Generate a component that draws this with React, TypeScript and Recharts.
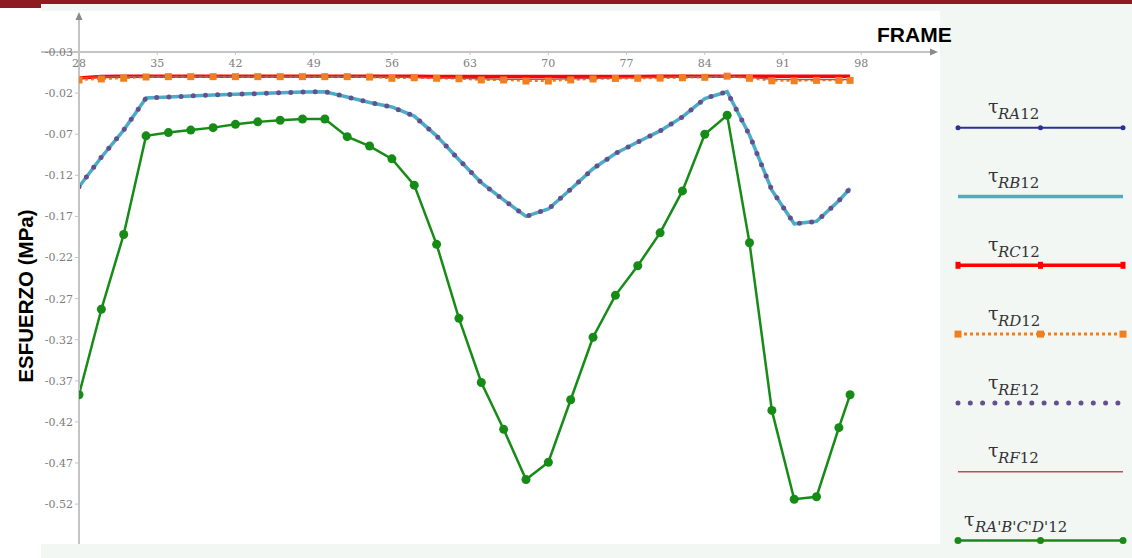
import { LineChart, Line, XAxis, YAxis, ReferenceLine, ReferenceDot, Legend } from "recharts"

// frames sampled every 2 frames, plus the last one
const FRAMES = [28, 30, 32, 34, 36, 38, 40, 42, 44, 46, 48, 50, 52, 54, 56, 58, 60, 62,
  64, 66, 68, 70, 72, 74, 76, 78, 80, 82, 84, 86, 88, 90, 92, 94, 96, 97]

// RA, RB and RE lie on top of each other in the picture
const TAU_RA = [-0.134, -0.098, -0.065, -0.026, -0.0247, -0.0235,
  -0.0223, -0.0215, -0.0205, -0.0195, -0.0187, -0.0183,
  -0.0247, -0.0314, -0.0369, -0.048, -0.072, -0.101,
  -0.129, -0.15, -0.17, -0.161, -0.137, -0.112,
  -0.0935, -0.0795, -0.066, -0.049, -0.0266, -0.0183,
  -0.071, -0.138, -0.179, -0.176, -0.151, -0.136]
const TAU_RB = TAU_RA
const TAU_RE = TAU_RA

const TAU_RC = [-0.0015, 0.0002, 0.0004, 0.0005, 0.0005, 0.0005,
  0.0005, 0.0005, 0.0005, 0.0005, 0.0005, 0.0005,
  0.0005, 0.0005, 0.0004, 0.0004, 0.0003, 0.0003,
  0.0002, 0.0002, 0.0001, 0.0001, 0.0002, 0.0002,
  0.0003, 0.0003, 0.0004, 0.0004, 0.0005, 0.0006,
  0.0005, 0.0005, 0.0005, 0.0005, 0.0005, 0.0005]

const TAU_RD = [-0.004, -0.0028, -0.002, -0.0004, 0, 0,
  0, 0, 0, 0, 0, 0,
  0, -0.0005, -0.002, -0.0013, -0.002, -0.0025,
  -0.004, -0.004, -0.0053, -0.0053, -0.004, -0.0028,
  -0.0022, -0.002, -0.0018, -0.0013, -0.0008, 0.0006,
  -0.002, -0.005, -0.005, -0.0045, -0.0045, -0.0045]

const TAU_RF = [-0.0015, -0.0005, 0, 0, 0, 0,
  0, 0, 0, 0, 0, 0,
  0, 0, -0.0005, -0.001, -0.0015, -0.002,
  -0.0025, -0.003, -0.003, -0.003, -0.0025, -0.002,
  -0.0015, -0.001, -0.001, -0.0005, 0, 0,
  -0.001, -0.003, -0.0035, -0.0035, -0.0035, -0.0035]

const TAU_RABCD = [-0.387, -0.283, -0.192, -0.072, -0.068, -0.065,
  -0.062, -0.058, -0.055, -0.053, -0.0515, -0.0515,
  -0.073, -0.0844, -0.1, -0.132, -0.204, -0.294,
  -0.372, -0.429, -0.49, -0.469, -0.393, -0.317,
  -0.266, -0.23, -0.19, -0.139, -0.07, -0.047,
  -0.202, -0.406, -0.514, -0.511, -0.427, -0.387]

const X_TICKS = [28, 35, 42, 49, 56, 63, 70, 77, 84, 91, 98]
const Y_TICKS = [0.03, -0.02, -0.07, -0.12, -0.17, -0.22, -0.27, -0.32, -0.37, -0.42, -0.47, -0.52]
const Y_TICK_LABELS = ["-0.03", "-0.02", "-0.07", "-0.12", "-0.17", "-0.22", "-0.27",
  "-0.32", "-0.37", "-0.42", "-0.47", "-0.52"]

const LEGEND_NAMES = ["RA", "RB", "RC", "RD", "RE", "RF", "RA'B'C'D'"]

const X_DOMAIN: [number, number] = [28, 104.6]
const Y_DOMAIN: [number, number] = [-0.5685, 0.03]

const NAVY = "#2b3190"
const CYAN = "#4bacc6"
const RED = "#ff0000"
const ORANGE = "#f07f1f"
const PURPLE = "#65508f"
const BROWN = "#c0504d"
const GREEN = "#168c16"
const AXIS = "#c4c4c4"
const TICK_TEXT = "#7d7d7d"

const data = FRAMES.map((f, i) => ({
  frame: f,
  ra: TAU_RA[i],
  rb: TAU_RB[i],
  rc: TAU_RC[i],
  rd: TAU_RD[i],
  re: TAU_RE[i],
  rf: TAU_RF[i],
  rabcd: TAU_RABCD[i],
}))

const SquareDot = (props: any) => {
  const { cx, cy, index } = props
  if (cx == null || cy == null) return <g key={index} />
  return <rect key={index} x={cx - 3.5} y={cy - 3.5} width={7} height={7} fill={ORANGE} />
}

const LegendSample = ({ i, y }: { i: number; y: number }) => {
  const x1 = 18
  const x2 = 183
  const xm = (x1 + x2) / 2
  switch (i) {
    case 0:
      return (
        <g>
          <line x1={x1} x2={x2} y1={y} y2={y} stroke={NAVY} strokeWidth={2} />
          {[x1, xm, x2].map((cx) => <circle key={cx} cx={cx} cy={y} r={2.5} fill={NAVY} />)}
        </g>
      )
    case 1:
      return <line x1={x1} x2={x2} y1={y} y2={y} stroke={CYAN} strokeWidth={3.5} />
    case 2:
      return (
        <g>
          <line x1={x1} x2={x2} y1={y} y2={y} stroke={RED} strokeWidth={3.5} />
          {[x1, xm, x2].map((cx) => <rect key={cx} x={cx - 2.5} y={y - 3.5} width={5} height={7} fill={RED} />)}
        </g>
      )
    case 3:
      return (
        <g>
          <line x1={x1} x2={x2} y1={y} y2={y} stroke={ORANGE} strokeWidth={3} strokeDasharray="3 3" />
          {[x1, xm, x2].map((cx) => <rect key={cx} x={cx - 3.5} y={y - 3.5} width={7} height={7} fill={ORANGE} />)}
        </g>
      )
    case 4:
      return (
        <line x1={x1} x2={x2} y1={y} y2={y} stroke={PURPLE} strokeWidth={5}
          strokeDasharray="0 12.3" strokeLinecap="round" />
      )
    case 5:
      return <line x1={x1} x2={x2} y1={y} y2={y} stroke={BROWN} strokeWidth={1.5} />
    default:
      return (
        <g>
          <line x1={x1} x2={x2} y1={y} y2={y} stroke={GREEN} strokeWidth={2.5} />
          {[x1, xm, x2].map((cx) => <circle key={cx} cx={cx} cy={y} r={3.5} fill={GREEN} />)}
        </g>
      )
  }
}

const LegendPanel = () => (
  <svg width={192} height={558}>
    {LEGEND_NAMES.map((name, i) => {
      const y = 127.7 + i * 68.8
      const last = i === LEGEND_NAMES.length - 1
      return (
        <g key={name}>
          <text x={last ? 24 : 48} y={y - 14.4} fontFamily="DejaVu Serif" fontSize={19} fill="#333">τ</text>
          <text x={last ? 35 : 58} y={y - 8.4} fontFamily="DejaVu Serif" fontSize={15} fill="#333">
            <tspan fontStyle="italic">{name}</tspan>12
          </text>
          <LegendSample i={i} y={y} />
        </g>
      )
    })}
  </svg>
)

const App = () => {
  return (
    <div style={{ position: "absolute", left: 0, top: 0, width: 1132, height: 558, background: "#fff", overflow: "hidden" }}>
      <div style={{ position: "absolute", left: 41, top: 0, width: 1091, height: 558, background: "#f2f7f4" }} />
      <div style={{ position: "absolute", left: 41, top: 11, width: 899, height: 533, background: "#fff" }} />
      <div style={{ position: "absolute", left: 0, top: 0, width: 1132, height: 3.5, background: "#8d1b20" }} />
      <div style={{ position: "absolute", left: 0, top: 0, width: 41, height: 8, background: "#8d1b20" }} />

      <div style={{
        position: "absolute", left: 877, top: 24, fontFamily: "Liberation Sans, Arial, sans-serif",
        fontWeight: "bold", fontSize: 21, lineHeight: "21px", color: "#000"
      }}>FRAME</div>
      <div style={{
        position: "absolute", left: 26 - 100, top: 295.5 - 12, width: 200, height: 24, textAlign: "center",
        transform: "rotate(-90deg)", fontFamily: "Liberation Sans, Arial, sans-serif", fontWeight: "bold",
        fontSize: 20.5, lineHeight: "24px", color: "#000", whiteSpace: "nowrap"
      }}>ESFUERZO (MPa)</div>

      <div style={{ position: "absolute", left: 0, top: 0 }}>
        <LineChart width={1132} height={558} data={data} margin={{ top: 52, right: 197, bottom: 14, left: 39 }}>
          <XAxis
            dataKey="frame"
            type="number"
            orientation="top"
            mirror
            domain={X_DOMAIN}
            ticks={X_TICKS}
            allowDataOverflow
            axisLine={{ stroke: AXIS, strokeWidth: 2 }}
            tickLine={{ stroke: AXIS }}
            tickSize={3}
            tickMargin={4}
            tick={{ fill: TICK_TEXT, fontSize: 11, fontFamily: "DejaVu Serif" }}
          />
          <YAxis
            type="number"
            width={40}
            domain={Y_DOMAIN}
            ticks={Y_TICKS}
            allowDataOverflow
            interval={0}
            axisLine={{ stroke: AXIS, strokeWidth: 2 }}
            tickLine={{ stroke: AXIS }}
            tickSize={4}
            tickMargin={2}
            tick={{ fill: TICK_TEXT, fontSize: 11, fontFamily: "DejaVu Serif" }}
            tickFormatter={(v: number) => {
              const i = Y_TICKS.findIndex((t) => Math.abs(t - v) < 1e-9)
              return i >= 0 ? Y_TICK_LABELS[i] : String(v)
            }}
          />
          <ReferenceLine segment={[{ x: 24.6, y: 0.03 }, { x: 28, y: 0.03 }]} stroke={AXIS} strokeWidth={2} ifOverflow="visible" />
          <ReferenceLine segment={[{ x: 28, y: 0.03 }, { x: 28, y: 0.075 }]} stroke={AXIS} strokeWidth={2} ifOverflow="visible" />
          <ReferenceDot x={104.6} y={0.03} ifOverflow="visible"
            shape={(p: any) => <path d={`M${p.cx + 3},${p.cy} L${p.cx - 5},${p.cy - 3.5} L${p.cx - 5},${p.cy + 3.5} Z`} fill="#8a8a8a" />} />
          <ReferenceDot x={28} y={0.075} ifOverflow="visible"
            shape={(p: any) => <path d={`M${p.cx},${p.cy - 3} L${p.cx - 3.5},${p.cy + 5} L${p.cx + 3.5},${p.cy + 5} Z`} fill="#8a8a8a" />} />

          <Line dataKey="ra" stroke={NAVY} strokeWidth={2} dot={false} isAnimationActive={false} />
          <Line dataKey="rb" stroke={CYAN} strokeWidth={3.5} dot={false} isAnimationActive={false} />
          <Line dataKey="rc" stroke={RED} strokeWidth={3.5} dot={false} isAnimationActive={false} />
          <Line dataKey="rd" stroke={ORANGE} strokeWidth={2} strokeDasharray="3 3" dot={<SquareDot />} isAnimationActive={false} />
          <Line dataKey="re" stroke={PURPLE} strokeWidth={5} strokeDasharray="0 12.2" strokeLinecap="round" dot={false} isAnimationActive={false} />
          <Line dataKey="rf" stroke={BROWN} strokeWidth={1.5} dot={false} isAnimationActive={false} />
          <Line dataKey="rabcd" stroke={GREEN} strokeWidth={2.5} dot={{ r: 4.5, fill: GREEN, stroke: GREEN, strokeWidth: 0 }} isAnimationActive={false} />

          <Legend
            layout="horizontal"
            verticalAlign="middle"
            align="center"
            wrapperStyle={{ left: 940, top: 0, width: 192, height: 558 }}
            content={() => <LegendPanel />}
          />
        </LineChart>
      </div>
    </div>
  )
}

export default App
